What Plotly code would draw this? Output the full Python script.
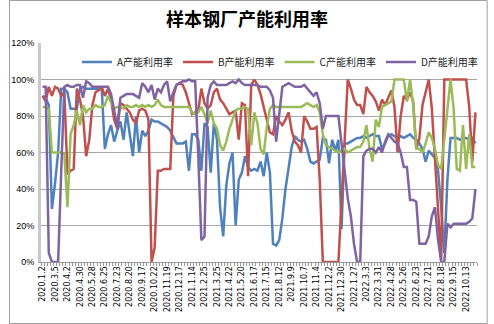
import datetime as dt
import plotly.graph_objects as go

title = "样本钢厂产能利用率"
tick_labels = ["2020.1.2", "2020.3.5", "2020.4.2", "2020.4.30", "2020.5.28", "2020.6.25",
               "2020.7.23", "2020.8.20", "2020.9.17", "2020.10.22", "2020.11.19", "2020.12.17",
               "2021.1.14", "2021.2.25", "2021.3.25", "2021.4.22", "2021.5.20", "2021.6.17",
               "2021.7.15", "2021.8.12", "2021.9.9", "2021.10.7", "2021.11.4", "2021.12.2",
               "2021.12.30", "2022.1.27", "2022.3.3", "2022.3.31", "2022.4.28", "2022.5.26",
               "2022.6.23", "2022.7.21", "2022.8.18", "2022.9.15", "2022.10.13"]

series_names = ["A产能利用率", "B产能利用率", "C产能利用率", "D产能利用率"]

A = [91, 90, 86, 29, 43, 60, 95, 95, 93, 84,
     84, 84, 95, 96, 95, 95, 95, 95, 95, 95,
     62, 70, 75, 66, 72, 77, 67, 82, 70, 58,
     80, 60, 72, 69, 72, 78, 77, 77, 76, 75,
     74, 72, 68, 65, 65, 65, 66, 50, 70, 70,
     67, 50, 76, 74, 49, 76, 67, 30, 14, 42,
     54, 60, 20, 45, 49, 58, 52, 50, 51, 50,
     55, 47, 60, 49, 10, 9, 12, 24, 40, 53,
     63, 69, 67, 66, 67, 62, 55, 54, 55, 56,
     68, 67, 54, 67, 61, 67, 18, 65, 65, 66,
     67, 68, 68, 69, 68, 69, 70, 69, 69, 62,
     65, 69, 70, 69, 68, 69, 68, 69, 70, 68,
     67, 65, 62, 55, 61, 59, 57, 50, 30, 5,
     45, 68, 68, 68, 67, 68, 68, 67, 68, 65]

B = [91, 88, 96, 91, 96, 95, 91, 93, 48, 50,
     51, 95, 89, 80, 58, 67, 86, 93, 94, 96,
     91, 95, 89, 78, 73, 87, 86, 84, 82, 78,
     76, 83, 84, 83, 78, 0, 8, 50, 50, 51,
     51, 51, 91, 97, 98, 97, 93, 87, 81, 82,
     83, 95, 87, 84, 86, 93, 95, 89, 87, 84,
     81, 82, 83, 67, 87, 86, 47, 97, 100, 97,
     92, 85, 77, 71, 70, 80, 77, 75, 78, 82,
     72, 66, 64, 60, 80, 77, 73, 73, 74, 45,
     0, 0, 0, 0, 0, 0, 33, 67, 100, 95,
     89, 86, 86, 81, 96, 93, 91, 88, 83, 89,
     86, 90, 94, 85, 60, 80, 91, 89, 93, 88,
     62, 68, 86, 93, 100, 84, 55, 28, 1, 100,
     100, 100, 100, 100, 100, 100, 100, 85, 55, 82]

C = [85, 85, 84, 60, 60, 60, 60, 59, 30, 70,
     75, 83, 75, 86, 82, 84, 84, 86, 85, 85,
     86, 91, 87, 84, 85, 85, 84, 86, 85, 85,
     86, 85, 86, 85, 86, 85, 86, 89, 86, 85,
     85, 85, 85, 85, 85, 85, 85, 85, 82, 81,
     82, 85, 81, 76, 83, 76, 73, 64, 61, 66,
     73, 78, 83, 84, 84, 85, 84, 64, 82, 76,
     62, 59, 74, 84, 86, 85, 85, 85, 85, 85,
     85, 85, 85, 85, 86, 87, 86, 85, 86, 82,
     70, 64, 63, 62, 61, 60, 61, 62, 60, 61,
     62, 63, 63, 66, 75, 62, 55, 78, 74, 85,
     86, 87, 88, 100, 100, 100, 100, 88, 100, 86,
     62, 62, 60, 65, 71, 68, 62, 53, 51, 67,
     85, 100, 84, 51, 50, 75, 51, 70, 52, 52]

D = [96, 96, 5, 0, 0, 0, 50, 96, 97, 96,
     96, 97, 97, 90, 99, 98, 96, 96, 96, 96,
     96, 96, 92, 82, 74, 90, 91, 92, 92, 92,
     91, 90, 98, 96, 93, 97, 89, 95, 93, 97,
     99, 88, 93, 97, 98, 99, 99, 100, 99, 99,
     58, 12, 14, 90, 97, 99, 97, 97, 97, 97,
     98, 99, 98, 100, 98, 97, 97, 97, 97, 97,
     96, 96, 96, 94, 90, 66, 80, 96, 97, 98,
     97, 96, 96, 96, 97, 95, 93, 91, 93, 87,
     73, 80, 80, 80, 80, 80, 65, 50, 35, 25,
     10, 0, 0, 58, 61, 62, 62, 60, 63, 60,
     66, 70, 68, 66, 65, 60, 52, 52, 34, 34,
     33, 10, 10, 10, 14, 25, 30, 12, 0, 0,
     21, 19, 21, 21, 21, 21, 21, 22, 24, 40]

colors = ["#4F81BD", "#C0504D", "#9BBB59", "#8064A2"]


def parse(s):
    y, m, d = (int(p) for p in s.split("."))
    return dt.date(y, m, d)


def fmt(d):
    return f"{d.year}.{d.month}.{d.day}"


# weekly categories: each labelled week followed by three more weekly points
label_dates = [parse(s) for s in tick_labels]
categories = []
for k, d in enumerate(label_dates):
    categories.append(fmt(d))
    if k + 1 < len(label_dates):
        nxt = label_dates[k + 1]
        for back in (21, 14, 7):
            categories.append(fmt(nxt - dt.timedelta(days=back)))
    else:
        for fwd in (7, 14, 21):
            categories.append(fmt(d + dt.timedelta(days=fwd)))

fig = go.Figure()
for name, vals, col in zip(series_names, [A, B, C, D], colors):
    fig.add_trace(go.Scatter(
        x=categories, y=vals, name=name, mode="lines",
        line=dict(color=col, width=2.5),
    ))

W, H = 494, 324
L, R, T, Bm = 33, 11, 43, 62

fig.update_layout(
    width=W, height=H,
    margin=dict(l=L, r=R, t=T, b=Bm),
    paper_bgcolor="white", plot_bgcolor="white",
    showlegend=True,
    title=dict(text="<b>" + title + "</b>", x=0.5, xanchor="center", y=1 - 20 / H, yanchor="middle",
               font=dict(family="Noto Sans CJK SC", size=18, color="black")),
    legend=dict(orientation="h", x=0.548, xanchor="center", y=0.913, yanchor="middle",
                font=dict(family="Noto Sans CJK SC", size=10, color="#222"),
                bgcolor="rgba(255,255,255,0)", itemwidth=30, tracegroupgap=0),
    font=dict(family="Liberation Sans", size=9, color="black"),
)

fig.update_xaxes(
    type="category", categoryorder="array", categoryarray=categories,
    range=[-0.5, len(categories) - 0.5],
    tickmode="array", tickvals=categories,
    ticktext=[c if c in tick_labels else "" for c in categories],
    tickangle=-90, tickfont=dict(family="DejaVu Sans", size=8, color="black"),
    ticks="outside", ticklen=3, tickcolor="#999", tickson="boundaries",
    showline=True, linecolor="#999", linewidth=1, showgrid=False, zeroline=False,
)
fig.update_yaxes(
    range=[0, 120], tickvals=[0, 20, 40, 60, 80, 100, 120],
    ticktext=["0%", "20%", "40%", "60%", "80%", "100%", "120%"],
    tickfont=dict(family="Liberation Sans", size=9, color="black"),
    showgrid=True, gridcolor="#A6A6A6", gridwidth=1,
    showline=True, linecolor="#C8C8C8", linewidth=3, zeroline=False,
    ticks="", ticklabelstandoff=2,
)

# outer chart border
fig.add_shape(type="rect", xref="paper", yref="paper",
              x0=(0.5 - L) / (W - L - R), x1=(W - 0.5 - L) / (W - L - R),
              y0=-(Bm - 0.5) / (H - T - Bm), y1=(H - 0.5 - Bm) / (H - T - Bm),
              line=dict(color="#A0A0A0", width=1), layer="below")

fig.write_html("out.html")
